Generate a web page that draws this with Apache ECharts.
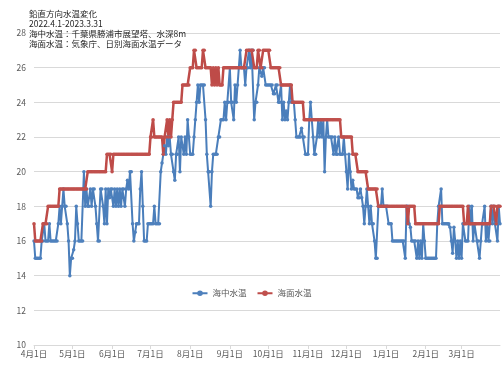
<!DOCTYPE html>
<html>
<head>
<meta charset="utf-8">
<script src="https://cdn.jsdelivr.net/npm/echarts@6/dist/echarts.min.js"></script>
<style>
  html, body { margin: 0; padding: 0; background: #fff; }
  #myChart { width: 503px; height: 377px; }
</style>
</head>
<body>
<div id="myChart"></div>
<script>
// タイトル
const titleLines = [
  "鉛直方向水温変化",
  "2022.4.1-2023.3.31",
  "海中水温：千葉県勝浦市展望塔、水深8m",
  "海面水温：気象庁、日別海面水温データ",
];
const seriesNames = ["海中水温", "海面水温"];
const months = ["4月", "5月", "6月", "7月", "8月", "9月", "10月", "11月", "12月", "1月", "2月", "3月"];
const monthDays = [30, 31, 30, 31, 31, 30, 31, 30, 31, 31, 28, 31];
const yMin = 10;
const yMax = 28;
const yStep = 2;

// 海中水温（日別）
const underWater = [
  // 4月
  16, 15, 15, 15, 15, 15, 16, 16, 17, 16, 16, 16, 17, 16, 16, 16, 16, 16, 16, 17,
  18, 17, 18, 19, 18, 18, 17, 16, 14, 15,
  // 5月
  15, 15.5, 16, 18, 17, 16, 16, 16, 16, 20, 18, 19, 18, 18, 19, 18, 19, 19, 18, 17,
  16, 16, 19, 19, 18, 17, 19, 17, 19, 18.5, 19,
  // 6月
  19, 18, 19, 18, 19, 18, 19, 18, 19, 19, 18, 19, 19.5, 19, 20, 20, 17, 16, 16.5, 17,
  17, 17, 19, 20, 18, 16, 16, 16, 17, 17,
  // 7月
  17, 17, 17, 18, 17, 17, 17, 17, 20, 20.5, 21, 21.5, 21, 22, 21.5, 22, 21, 21, 20, 19.5,
  21, 21, 22, 20, 22, 21.5, 21, 22, 21, 23, 22,
  // 8月
  21, 21, 21, 22, 23, 24, 25, 24, 25, 25, 25, 25, 23, 21, 20, 20, 18, 20, 21, 21,
  21, 21, 22, 22, 23, 23, 23, 24, 23, 24, 24,
  // 9月
  26, 24, 24, 23, 25, 24, 25, 26, 27, 26, 26, 26, 25, 26, 26, 27, 26, 27, 27, 23,
  24, 24, 25, 26, 26, 25.5, 26, 26, 25, 25,
  // 10月
  25, 25, 25, 25, 24.5, 24.5, 25, 25, 24, 24, 25, 23, 24, 23, 23.5, 23, 24, 25, 24, 24,
  24, 23, 22, 22, 22, 22, 22.5, 22, 22, 21, 21,
  // 11月
  21, 23, 24, 23, 22, 21, 21, 22, 23, 22, 23, 22, 23, 20, 22, 23, 22, 22, 22, 22,
  21, 22, 21, 21, 22, 21, 21, 21, 22, 21,
  // 12月
  20, 19, 21, 20, 19, 19.5, 19, 19, 19, 18.5, 18.5, 19, 18.5, 18, 17, 18, 19, 18, 17, 18,
  17, 17, 16, 15, 15, 18, 18, 18, 19, 18, 18,
  // 1月
  18, 18, 17, 17, 17, 16, 16, 16, 16, 16, 16, 16, 16, 16, 16, 15, 18, 18, 17, 16.8,
  16, 16, 16, 16, 15, 16, 15, 16, 15, 17, 16,
  // 2月
  15, 15, 15, 15, 15, 15, 15, 15, 15, 17, 18, 18, 19, 17, 17, 17, 17, 17, 17, 16.8,
  16, 15.3, 16.8, 16, 15, 16, 15, 16,
  // 3月
  15, 17, 17, 16, 16, 16, 18, 17, 18, 16, 17, 17, 16, 16, 15, 16, 17, 17, 18, 16,
  17, 16, 16, 18, 17, 18, 17, 17, 16, 18, 17,
];

// 海面水温（日別）
const surface = [
  // 4月
  17, 16, 16, 16, 16, 16, 16, 17, 17, 17, 17, 18, 18, 18, 18, 18, 18, 18, 18, 18,
  19, 19, 19, 19, 19, 19, 19, 19, 19, 19,
  // 5月
  19, 19, 19, 19, 19, 19, 19, 19, 19, 19, 19, 19, 20, 20, 20, 20, 20, 20, 20, 20,
  20, 20, 20, 20, 20, 20, 20, 21, 21, 21, 21,
  // 6月
  20, 21, 21, 21, 21, 21, 21, 21, 21, 21, 21, 21, 21, 21, 21, 21, 21, 21, 21, 21,
  21, 21, 21, 21, 21, 21, 21, 21, 21, 21,
  // 7月
  22, 22, 23, 22, 22, 22, 22, 22, 22, 22, 21, 22, 22, 23, 22, 23, 22, 23, 24, 24,
  24, 24, 24, 24, 24, 25, 25, 25, 25, 25, 25,
  // 8月
  26, 26, 26, 27, 27, 26, 26, 26, 26, 26, 27, 27, 26, 26, 26, 26, 26, 25, 26, 25,
  26, 25, 26, 25, 25, 25, 26, 26, 26, 26, 26,
  // 9月
  26, 26, 26, 26, 26, 26, 26, 26, 26, 26, 26, 26, 26, 27, 27, 27, 27, 27, 27, 26,
  26, 26, 27, 27, 26, 26, 27, 27, 27, 27,
  // 10月
  27, 27, 26, 26, 26, 26, 26, 26, 26, 26, 25, 25, 25, 25, 25, 25, 25, 25, 25, 24,
  24, 24, 24, 24, 24, 24, 24, 24, 23, 23, 23,
  // 11月
  23, 23, 23, 23, 23, 23, 23, 23, 23, 23, 23, 23, 23, 23, 23, 23, 23, 23, 23, 23,
  23, 23, 23, 23, 23, 23, 22, 22, 22, 22,
  // 12月
  22, 22, 22, 22, 22, 21, 21, 21, 21, 20, 20, 20, 20, 20, 20, 20, 20, 19, 19, 19,
  19, 19, 19, 19, 19, 18, 18, 18, 18, 18, 18,
  // 1月
  18, 18, 18, 18, 18, 18, 18, 18, 18, 18, 18, 18, 18, 18, 18, 18, 18, 17, 18, 18,
  18, 18, 18, 17, 17, 17, 17, 17, 17, 17, 17,
  // 2月
  17, 17, 17, 17, 17, 17, 17, 17, 17, 17, 17, 18, 18, 18, 18, 18, 18, 18, 18, 18,
  18, 18, 18, 18, 18, 18, 18, 18,
  // 3月
  18, 18, 17, 17, 17, 18, 17, 17, 17, 17, 17, 17, 17, 17, 17, 17, 17, 17, 17, 17,
  17, 17, 17, 18, 18, 18, 18, 17, 18, 18, 18,
];

// 日付カテゴリ
let dates = [];
months.forEach((m, i) => {
  for (let d = 1; d <= monthDays[i]; d++) dates.push(m + d + "日");
});
const isMonthStart = (index, value) => /月1日$/.test(value);

let chart = echarts.init(document.getElementById("myChart"));
const font = "'Noto Sans CJK JP', 'Noto Sans', sans-serif";
let option = {
  animation: false,
  textStyle: { fontFamily: font },
  title: {
    text: titleLines.join("\n"),
    left: 29,
    top: 9,
    padding: 0,
    textStyle: {
      fontSize: 8.5,
      lineHeight: 10,
      fontWeight: "normal",
      color: "#262626",
      fontFamily: font,
    },
  },
  legend: {
    data: seriesNames,
    left: "center",
    top: 284,
    itemWidth: 15,
    itemHeight: 7,
    itemGap: 10,
    textStyle: { fontSize: 8.5, color: "#595959", fontFamily: font },
  },
  grid: {
    left: 34,
    right: 3,
    top: 33,
    bottom: 32,
    containLabel: false,
  },
  xAxis: {
    type: "category",
    data: dates,
    boundaryGap: false,
    axisLine: { lineStyle: { color: "#d9d9d9" } },
    axisTick: {
      interval: isMonthStart,
      length: 4,
      lineStyle: { color: "#d9d9d9" },
    },
    axisLabel: {
      interval: isMonthStart,
      fontSize: 8.5,
      color: "#595959",
      margin: 5,
      hideOverlap: false,
    },
    splitLine: { show: false },
  },
  yAxis: {
    type: "value",
    min: yMin,
    max: yMax,
    interval: yStep,
    axisLine: { show: false },
    axisTick: { show: false },
    axisLabel: { fontSize: 8.5, color: "#595959", margin: 8 },
    splitLine: { lineStyle: { color: "#d9d9d9", width: 1 } },
  },
  series: [
    {
      type: "line",
      name: seriesNames[0],
      data: underWater,
      symbol: "circle",
      symbolSize: 3.5,
      showAllSymbol: true,
      color: "#4a7ebb",
      itemStyle: { color: "#4f81bd" },
      lineStyle: { width: 2, color: "#4a7ebb" },
    },
    {
      type: "line",
      name: seriesNames[1],
      data: surface,
      symbol: "circle",
      symbolSize: 3.5,
      showAllSymbol: true,
      color: "#be4b48",
      itemStyle: { color: "#c0504d" },
      lineStyle: { width: 2.5, color: "#be4b48" },
    },
  ],
};
chart.setOption(option);
</script>
</body>
</html>
